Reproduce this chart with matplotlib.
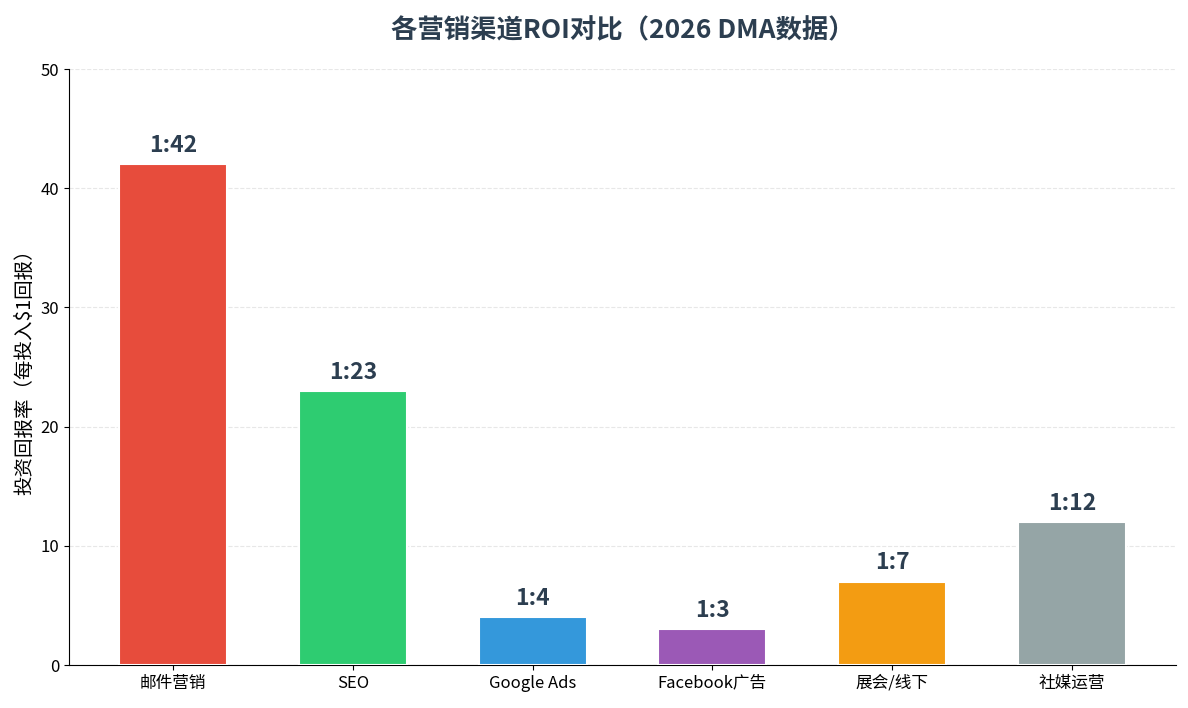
import matplotlib
matplotlib.use("Agg")
import matplotlib.pyplot as plt

plt.rcParams['font.family'] = ['Noto Sans CJK SC', 'DejaVu Sans']

channels = ['邮件营销', 'SEO', 'Google Ads', 'Facebook广告', '展会/线下', '社媒运营']
roi = [42, 23, 4, 3, 7, 12]
labels = ['1:42', '1:23', '1:4', '1:3', '1:7', '1:12']
colors = ['#e74c3c', '#2ecc71', '#3498db', '#9b59b6', '#f39c12', '#95a5a6']

fig = plt.figure(figsize=(11.88, 7.08), dpi=100)
ax = fig.add_axes([0.0580, 0.0607, 0.9320, 0.8418])

bars = ax.bar(range(len(channels)), roi, width=0.6, color=colors,
              edgecolor='white', linewidth=1.5, zorder=3)
for b, lab in zip(bars, labels):
    ax.text(b.get_x() + b.get_width() / 2, b.get_height() + 0.6, lab,
            ha='center', va='bottom', fontsize=16.5, fontweight='bold', color='#2c3e50')

ax.set_xticks(range(len(channels)))
ax.set_xticklabels(channels, fontsize=12)
ax.set_ylim(0, 50)
ax.set_yticks([0, 10, 20, 30, 40, 50])
ax.tick_params(axis='y', labelsize=12)
ax.set_ylabel('投资回报率（每投入$1回报）', fontsize=14)
ax.set_title('各营销渠道ROI对比（2026 DMA数据）', fontsize=19, fontweight='bold',
             color='#2c3e50', pad=22)
ax.yaxis.grid(True, linestyle='--', alpha=0.3, zorder=0)
ax.set_axisbelow(True)
ax.spines['top'].set_visible(False)
ax.spines['right'].set_visible(False)

fig.savefig('out.png', dpi=100)
